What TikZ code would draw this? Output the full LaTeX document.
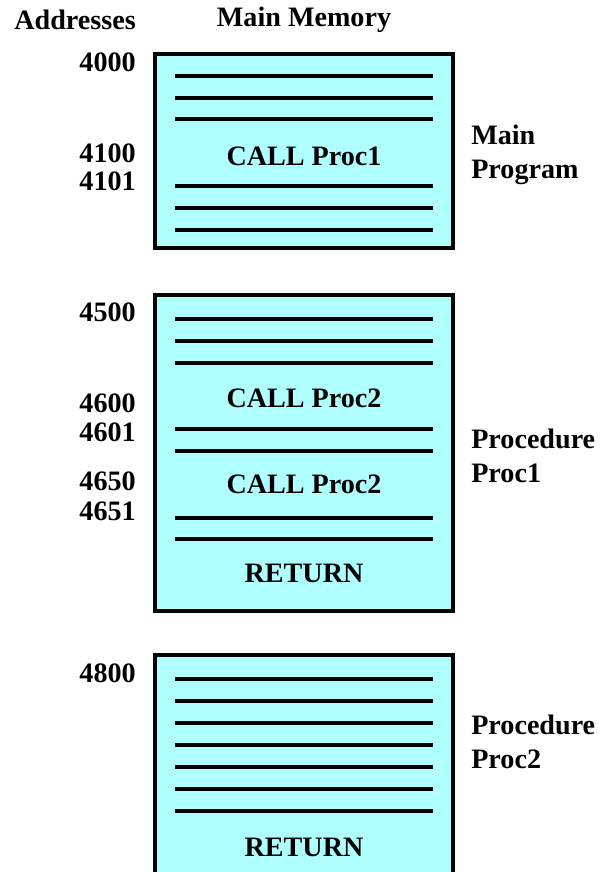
\documentclass[tikz,border=0pt]{standalone}
\usepackage{fontspec}
\setmainfont{Liberation Serif}[BoldFont={Liberation Serif Bold}]
\definecolor{memcyan}{RGB}{175,255,255}
\tikzset{
  membox/.style={draw=black, line width=2.6pt, fill=memcyan},
  slot/.style={line width=2.6pt},
  lbl/.style={font=\rmfamily\bfseries\fontsize{20}{24}\selectfont, inner sep=0pt},
  addr/.style={lbl, anchor=east},
  side/.style={lbl, anchor=west, align=left},
}
\begin{document}
\begin{tikzpicture}[x=0.025cm,y=-0.025cm]
      \useasboundingbox (0,0) rectangle (600,872);
      \clip (0,0) rectangle (600,872);
      \def\xl{155};
      \def\xr{453};
      \def\cx{304};
      % headings
      \node[addr] (hdraddr) at (136,20) {Addresses};
      \node[lbl] (hdrmem) at (\cx,20) {Main Memory};
      % memory blocks
      \draw[membox] (\xl,54) rectangle (\xr,248);
      \draw[membox] (\xl,295) rectangle (\xr,611);
      \draw[membox] (\xl,655) rectangle (\xr,900);
      \foreach \y in {76,98,119,186,208,230,319,341,363,429,451,518,539,679,701,...,811}
          \draw[slot] (175,\y) -- (433,\y);
      % instructions
      \node[lbl] (call1) at (\cx,156) {CALL Proc1};
      \node[lbl] (call2a) at (\cx,398) {CALL Proc2};
      \node[lbl] (call2b) at (\cx,484) {CALL Proc2};
      \node[lbl] (ret1) at (\cx,573) {RETURN};
      \node[lbl] (ret2) at (\cx,847) {RETURN};
      % addresses
      \foreach \a/\y in {4000/62,4100/153,4101/181,4500/312,4600/403,4601/432,4650/481,4651/511,4800/673}
          \node[addr] (a\a) at (136,\y) {\a};
      % block names
      \node[side] (mainprog) at (471,155) {Main\\Program};
      \node[side] (proc1) at (471,456) {Procedure\\Proc1};
      \node[side] (proc2) at (471,742) {Procedure\\Proc2};
\end{tikzpicture}
\end{document}
